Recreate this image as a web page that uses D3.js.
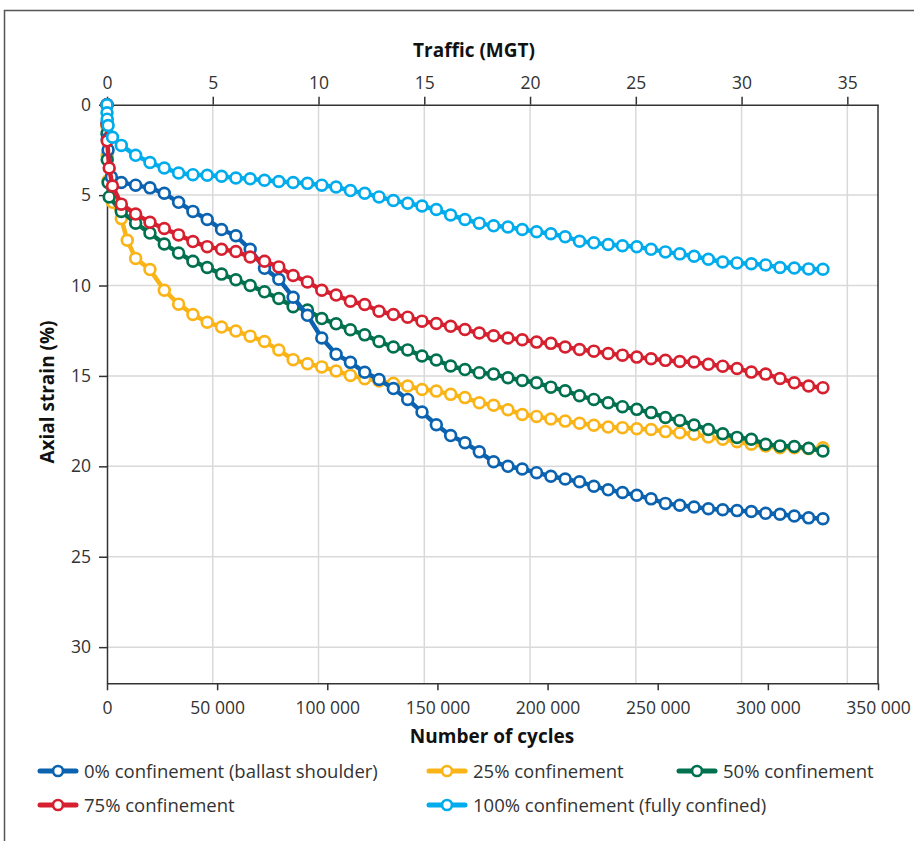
<!DOCTYPE html>
<html>
<head>
<meta charset="utf-8">
<script src="https://cdn.jsdelivr.net/npm/d3@7"></script>
<style>
  html, body { margin: 0; padding: 0; background: #fff; }
  svg { display: block; }
  text { font-family: "Open Sans", "Noto Sans", sans-serif; }
</style>
</head>
<body>
<svg id="chart" width="914" height="841"></svg>
<script>
// ---------- DATA ----------
const seriesNames = [
  "0% confinement (ballast shoulder)",
  "25% confinement",
  "50% confinement",
  "75% confinement",
  "100% confinement (fully confined)"
];
const seriesColors = ["#0b63b0", "#fbb417", "#00704f", "#d6202f", "#00acec"];

const mgtTicks = [0, 5, 10, 15, 20, 25, 30, 35];
const cycleTicks = [0, 50000, 100000, 150000, 200000, 250000, 300000, 350000];
const strainTicks = [0, 5, 10, 15, 20, 25, 30];

// regular measurement cycles
const cycles = [6500,13000,19500,26000,32500,39000,45500,52000,58500,65000,
  71500,78000,84500,91000,97500,104000,110500,117000,123500,130000,
  136500,143000,149500,156000,162500,169000,175500,182000,188500,195000,
  201500,208000,214500,221000,227500,234000,240500,247000,253500,260000,
  266500,273000,279500,286000,292500,299000,305500,312000,318500,325000];

// early readings [cycles, strain]
const early0   = [[1,0],[10,1.0],[100,1.9],[500,2.5],[2000,4.0]];
const early25  = [[1,0],[10,1.2],[100,2.8],[500,4.2],[2500,5.4],[9200,7.5]];
const early50  = [[1,0],[10,1.6],[100,3.05],[500,4.3],[1000,5.1]];
const early75  = [[1,0],[10,1.1],[100,2.0],[1000,3.5],[2500,4.5]];
const early100 = [[1,0],[10,0.45],[100,0.8],[500,1.15],[2500,1.8]];

const strain0 = [4.3,4.45,4.6,4.9,5.4,5.9,6.35,6.9,7.25,8.0,
  9.05,9.65,10.65,11.65,12.9,13.8,14.25,14.8,15.2,15.7,
  16.3,17.0,17.7,18.3,18.7,19.2,19.75,20.0,20.15,20.35,
  20.55,20.7,20.85,21.1,21.3,21.45,21.6,21.8,22.05,22.15,
  22.25,22.35,22.4,22.45,22.5,22.6,22.65,22.75,22.85,22.9];
const strain25 = [6.3,8.5,9.12,10.26,11.03,11.6,12.03,12.3,12.52,12.8,
  13.1,13.57,14.1,14.33,14.5,14.73,14.97,15.16,15.28,15.41,
  15.56,15.75,15.84,16.02,16.2,16.48,16.62,16.87,17.13,17.24,
  17.38,17.5,17.62,17.73,17.83,17.86,17.92,17.96,18.08,18.14,
  18.23,18.38,18.5,18.64,18.78,18.87,18.97,18.97,19.02,18.97];
const strain50 = [5.9,6.55,7.1,7.7,8.2,8.66,9.0,9.37,9.68,10.0,
  10.35,10.72,11.17,11.36,11.83,12.12,12.45,12.73,13.1,13.4,
  13.56,13.9,14.12,14.45,14.65,14.82,14.9,15.1,15.25,15.38,
  15.62,15.82,16.1,16.3,16.48,16.7,16.85,17.03,17.3,17.46,
  17.72,17.96,18.2,18.4,18.5,18.78,18.87,18.9,19.0,19.15];
const strain75 = [5.5,6.05,6.5,6.85,7.2,7.57,7.85,8.0,8.12,8.42,
  8.66,8.97,9.45,9.8,10.26,10.53,10.87,11.05,11.42,11.6,
  11.75,11.97,12.1,12.25,12.43,12.63,12.78,12.9,13.0,13.13,
  13.2,13.4,13.54,13.63,13.76,13.85,13.96,14.05,14.14,14.2,
  14.23,14.36,14.46,14.59,14.79,14.9,15.14,15.38,15.56,15.65];
const strain100 = [2.25,2.8,3.2,3.5,3.78,3.87,3.9,3.96,4.05,4.1,
  4.18,4.25,4.3,4.35,4.45,4.55,4.75,4.9,5.1,5.3,
  5.45,5.6,5.8,6.1,6.35,6.55,6.7,6.76,6.9,7.03,
  7.14,7.3,7.55,7.64,7.73,7.8,7.86,8.0,8.14,8.25,
  8.38,8.55,8.7,8.75,8.8,8.86,9.0,9.03,9.08,9.1];

// ---------- BUILD ----------
function buildSeries(earlyPts, strains) {
  const pts = earlyPts.map(d => ({c: d[0], s: d[1]}))
    .concat(cycles.map((c, i) => ({c: c, s: strains[i]})));
  pts.sort((a, b) => a.c - b.c);
  return pts;
}
const allSeries = [
  buildSeries(early0, strain0),
  buildSeries(early25, strain25),
  buildSeries(early50, strain50),
  buildSeries(early75, strain75),
  buildSeries(early100, strain100)
];
const drawOrder = [1, 2, 0, 3, 4];

const svg = d3.select("#chart");
const X0 = 107, X1 = 878, Y0 = 104.7, Y1 = 683.3;

const x = d3.scaleLinear().domain([0, 350000]).range([X0, X1]);
const xm = d3.scaleLinear().domain([0, 36.45]).range([X0, X1]);
const y = d3.scaleLinear().domain([0, 32]).range([Y0, Y1]);

// outer frame
svg.append("rect").attr("x", 4.5).attr("y", 10.5).attr("width", 1000).attr("height", 1000)
  .attr("fill", "none").attr("stroke", "#555").attr("stroke-width", 1.5);

// grid
const grid = svg.append("g");
grid.selectAll(".vg").data(mgtTicks.filter(d => d > 0)).enter().append("line")
  .attr("x1", d => xm(d)).attr("x2", d => xm(d)).attr("y1", Y0).attr("y2", Y1)
  .attr("stroke", "#d9d9d9").attr("stroke-width", 1.5);
grid.selectAll(".hg").data(strainTicks.filter(d => d > 0)).enter().append("line")
  .attr("x1", X0).attr("x2", X1).attr("y1", d => y(d)).attr("y2", d => y(d))
  .attr("stroke", "#d9d9d9").attr("stroke-width", 1.5);

// right border
svg.append("line").attr("x1", X1).attr("x2", X1).attr("y1", Y0).attr("y2", Y1)
  .attr("stroke", "#333").attr("stroke-width", 1.5);

const fmt = d3.formatLocale({decimal: ".", thousands: " ", grouping: [3], currency: ["", ""]}).format(",");

function styleAxis(g) {
  g.select(".domain").attr("stroke", "#333").attr("stroke-width", 1.5);
  g.selectAll(".tick line").attr("stroke", "#333").attr("stroke-width", 1.5);
  g.selectAll(".tick text").attr("fill", "#333").style("font-size", "17.5px")
    .style("font-family", "'Open Sans', sans-serif");
}

const gTop = svg.append("g").attr("transform", `translate(0,${Y0})`)
  .call(d3.axisTop(xm).tickValues(mgtTicks).tickSize(8).tickPadding(8).tickSizeOuter(0));
styleAxis(gTop);

const gBot = svg.append("g").attr("transform", `translate(0,${Y1})`)
  .call(d3.axisBottom(x).tickValues(cycleTicks).tickFormat(fmt).tickSize(7).tickPadding(11).tickSizeOuter(0));
styleAxis(gBot);

const gLeft = svg.append("g").attr("transform", `translate(${X0},0)`)
  .call(d3.axisLeft(y).tickValues(strainTicks).tickSize(8).tickPadding(8).tickSizeOuter(0));
styleAxis(gLeft);

// titles
svg.append("text").attr("x", 474).attr("y", 57).attr("text-anchor", "middle")
  .style("font-size", "19px").style("font-weight", "bold").attr("fill", "#111").text("Traffic (MGT)");
svg.append("text").attr("x", 492).attr("y", 743).attr("text-anchor", "middle")
  .style("font-size", "19px").style("font-weight", "bold").attr("fill", "#111").text("Number of cycles");
svg.append("text").attr("transform", "translate(54,392) rotate(-90)").attr("text-anchor", "middle")
  .style("font-size", "19px").style("font-weight", "bold").attr("fill", "#111").text("Axial strain (%)");

// series
const line = d3.line().x(d => x(d.c)).y(d => y(d.s));
const plot = svg.append("g");
drawOrder.forEach(i => {
  const g = plot.append("g");
  g.append("path").datum(allSeries[i]).attr("d", line)
    .attr("fill", "none").attr("stroke", seriesColors[i]).attr("stroke-width", 4.5)
    .attr("stroke-linejoin", "round");
  g.selectAll("circle").data(allSeries[i]).enter().append("circle")
    .attr("cx", d => x(d.c)).attr("cy", d => y(d.s)).attr("r", 5.4)
    .attr("fill", "#fff").attr("stroke", seriesColors[i]).attr("stroke-width", 2.7);
});

// legend
const legendPos = [
  {mx: 58, tx: 84, y: 771},
  {mx: 447, tx: 473, y: 771},
  {mx: 697, tx: 723, y: 771},
  {mx: 58, tx: 84, y: 805},
  {mx: 447, tx: 473, y: 805}
];
const leg = svg.append("g");
seriesNames.forEach((name, i) => {
  const p = legendPos[i];
  leg.append("line").attr("x1", p.mx - 18).attr("x2", p.mx + 18).attr("y1", p.y).attr("y2", p.y)
    .attr("stroke", seriesColors[i]).attr("stroke-width", 5).attr("stroke-linecap", "round");
  leg.append("circle").attr("cx", p.mx).attr("cy", p.y).attr("r", 5)
    .attr("fill", "#fff").attr("stroke", seriesColors[i]).attr("stroke-width", 2.7);
  leg.append("text").attr("x", p.tx).attr("y", p.y + 6.5)
    .style("font-size", "18.5px").attr("fill", "#333").text(name);
});
</script>
</body>
</html>
